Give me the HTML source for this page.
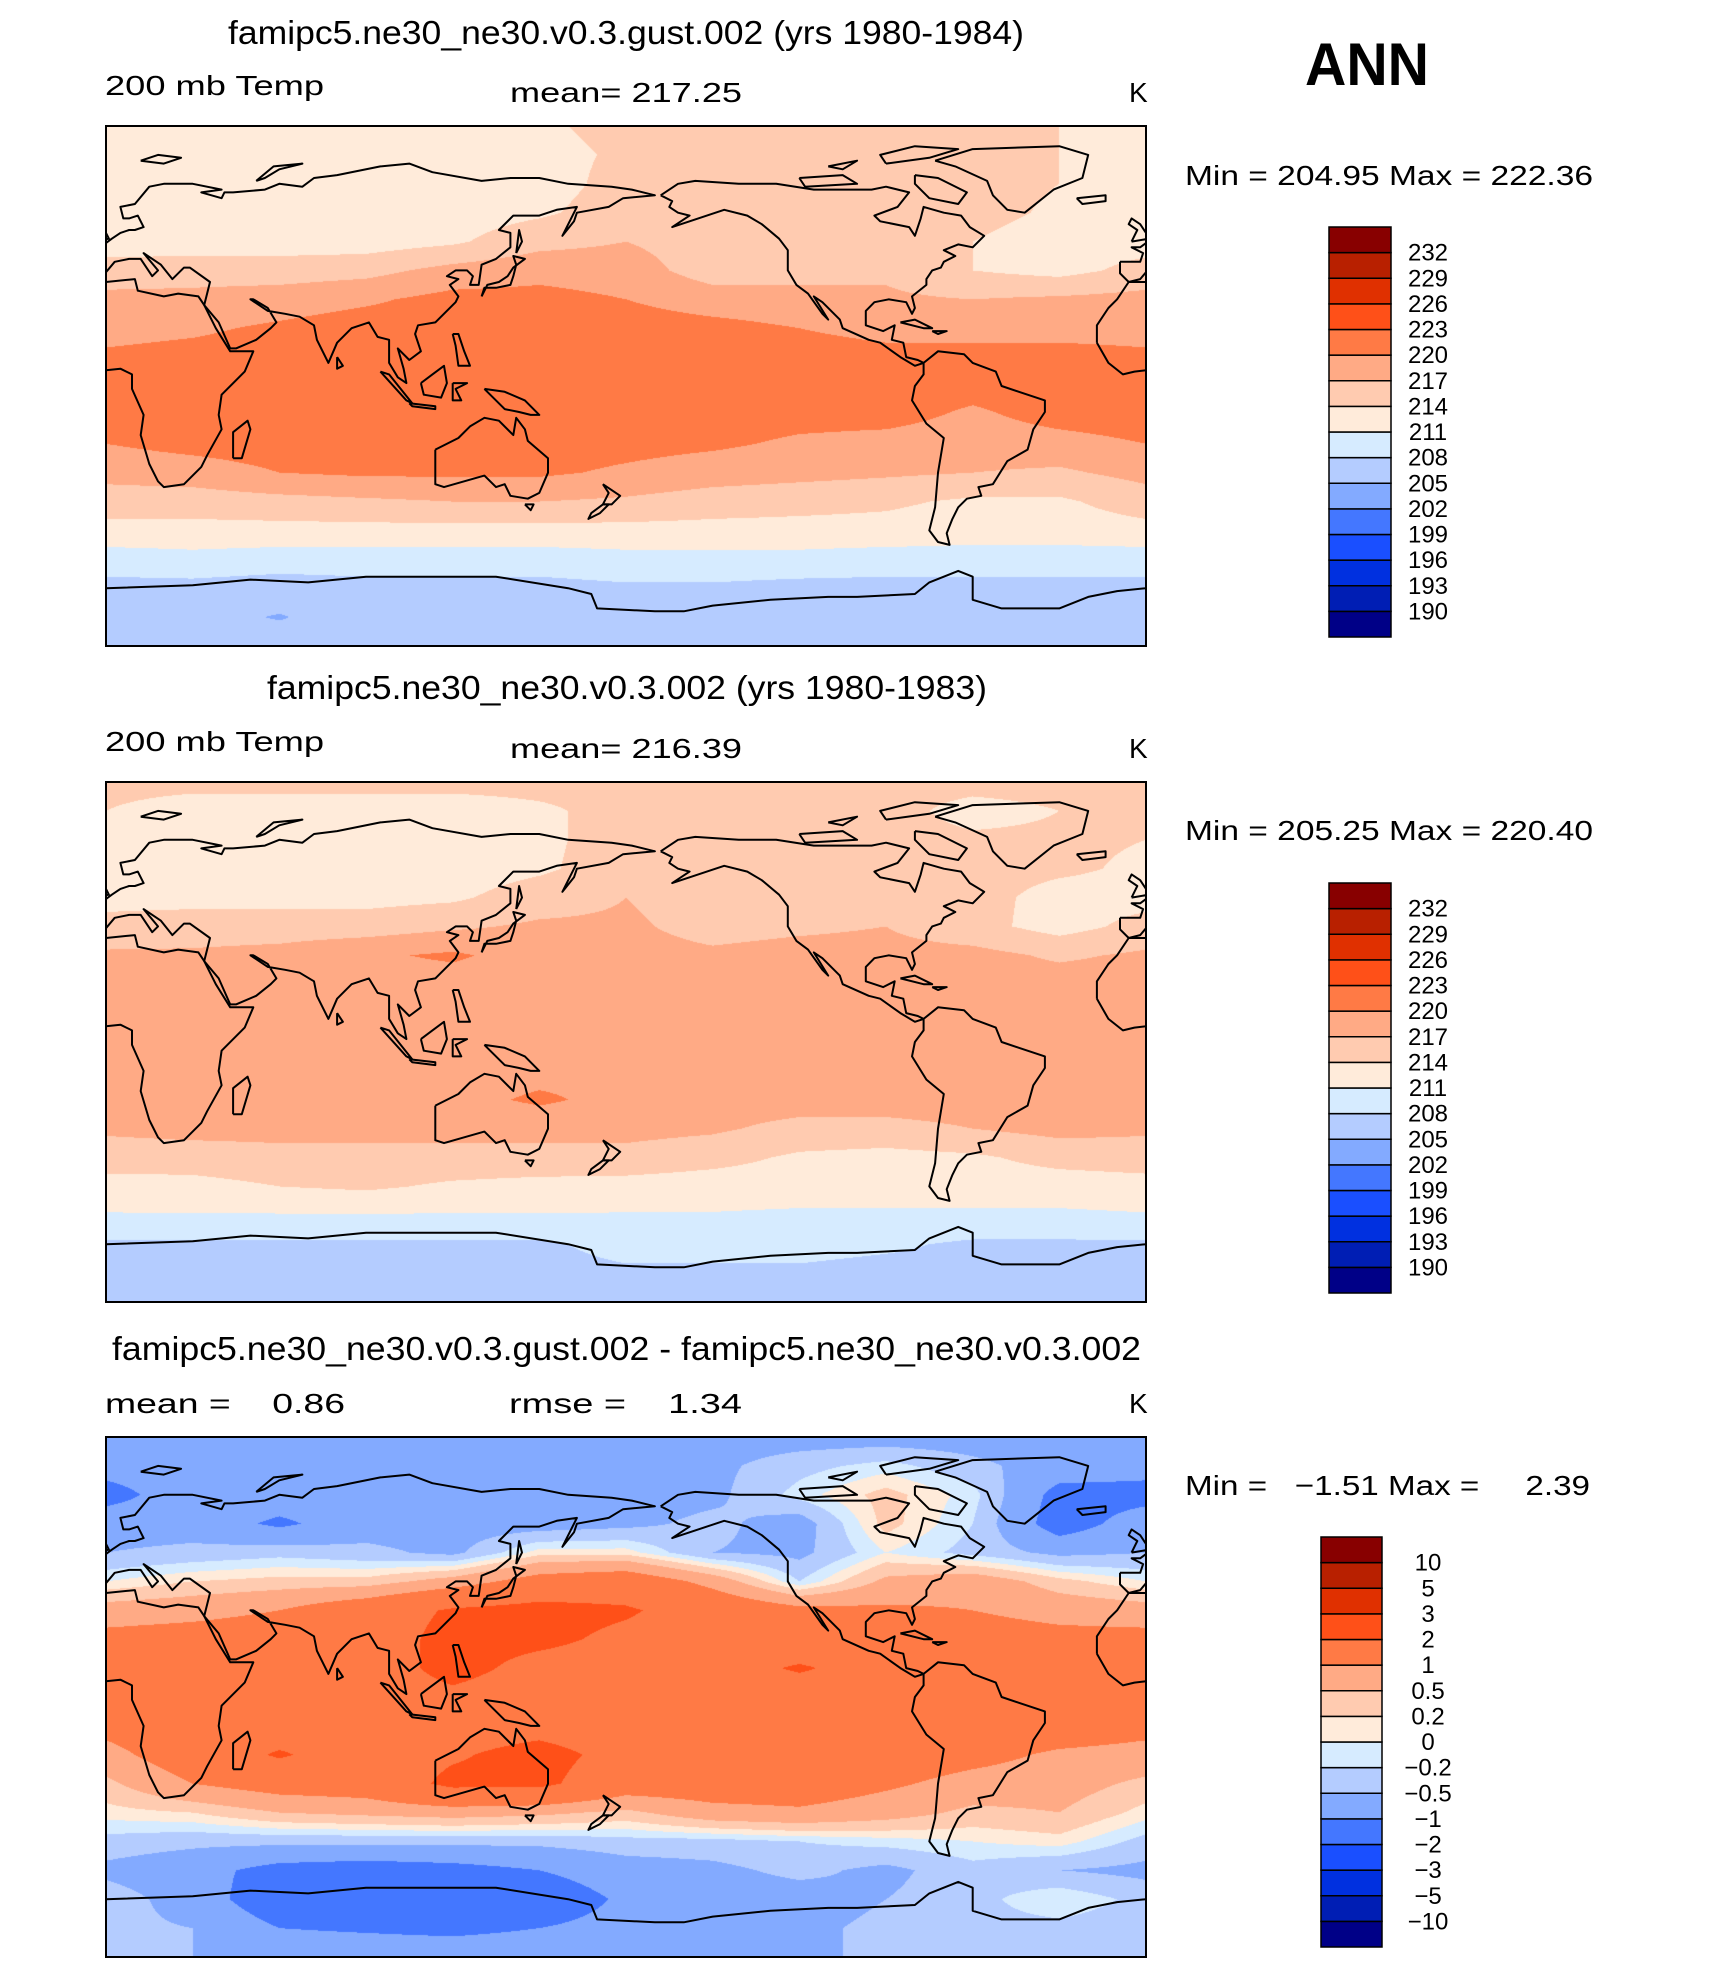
<!DOCTYPE html>
<html><head><meta charset="utf-8">
<style>
html,body{margin:0;padding:0;background:#fff;}
#root{position:relative;width:1710px;height:1963px;overflow:hidden;background:#fff;font-family:"Liberation Sans",sans-serif;}
canvas{position:absolute;}
svg{position:absolute;left:0;top:0;}
</style></head>
<body>
<div id="root">
<canvas id="map1" width="1040" height="520" style="left:106px;top:126px"></canvas>
<canvas id="map2" width="1040" height="520" style="left:106px;top:782px"></canvas>
<canvas id="map3" width="1040" height="520" style="left:106px;top:1437px"></canvas>
<svg id="ov" width="1710" height="1963" xmlns="http://www.w3.org/2000/svg">
<g font-family="Liberation Sans, sans-serif" fill="#000">
<text x="228" y="44" font-size="33" textLength="796" lengthAdjust="spacingAndGlyphs">famipc5.ne30_ne30.v0.3.gust.002 (yrs 1980-1984)</text>
<text x="1305" y="85" font-size="60" font-weight="bold" textLength="124" lengthAdjust="spacingAndGlyphs">ANN</text>
<text x="105" y="95" font-size="28" textLength="219" lengthAdjust="spacingAndGlyphs">200 mb Temp</text>
<text x="510" y="102" font-size="28" textLength="232" lengthAdjust="spacingAndGlyphs">mean= 217.25</text>
<text x="1129" y="102" font-size="28">K</text>
<text x="1185" y="185" font-size="28" textLength="408" lengthAdjust="spacingAndGlyphs">Min = 204.95 Max = 222.36</text>

<text x="267" y="699" font-size="33" textLength="720" lengthAdjust="spacingAndGlyphs">famipc5.ne30_ne30.v0.3.002 (yrs 1980-1983)</text>
<text x="105" y="751" font-size="28" textLength="219" lengthAdjust="spacingAndGlyphs">200 mb Temp</text>
<text x="510" y="758" font-size="28" textLength="232" lengthAdjust="spacingAndGlyphs">mean= 216.39</text>
<text x="1129" y="758" font-size="28">K</text>
<text x="1185" y="840" font-size="28" textLength="408" lengthAdjust="spacingAndGlyphs">Min = 205.25 Max = 220.40</text>

<text x="112" y="1360" font-size="33" textLength="1029" lengthAdjust="spacingAndGlyphs">famipc5.ne30_ne30.v0.3.gust.002 - famipc5.ne30_ne30.v0.3.002</text>
<text x="105" y="1413" font-size="28" textLength="240" lengthAdjust="spacingAndGlyphs" xml:space="preserve">mean =    0.86</text>
<text x="509" y="1413" font-size="28" textLength="233" lengthAdjust="spacingAndGlyphs" xml:space="preserve">rmse =    1.34</text>
<text x="1129" y="1413" font-size="28">K</text>
<text x="1185" y="1495" font-size="28" textLength="405" lengthAdjust="spacingAndGlyphs" xml:space="preserve">Min =   −1.51 Max =     2.39</text>
</g>
<g id="coasts" fill="none" stroke="#000" stroke-width="2" stroke-linejoin="round"></g>
<g id="frames" fill="none" stroke="#000" stroke-width="2"></g>
<g id="cbars"></g>
</svg>
</div>
<script>
// ---- data ----
const lons = [0,30,60,90,120,150,180,210,240,270,300,330,360];
const lats = [90,80,70,60,50,40,30,20,10,0,-10,-20,-30,-40,-50,-60,-70,-80,-90];
const tempLevels = [190,193,196,199,202,205,208,211,214,217,220,223,226,229,232];
const tempLabels = ["190","193","196","199","202","205","208","211","214","217","220","223","226","229","232"];
const diffLevels = [-10,-5,-3,-2,-1,-0.5,-0.2,0,0.2,0.5,1,2,3,5,10];
const diffLabels = ["−10","−5","−3","−2","−1","−0.5","−0.2","0","0.2","0.5","1","2","3","5","10"];
const palette = ["#000087","#001EB4","#0030E0","#1A4FFF","#4477FF","#83AAFF","#B4CCFF","#D6EBFF","#FFEBDA","#FFCBB0","#FFAA85","#FF7A45","#FF5018","#E03000","#B82000","#880000"];

const gustTemp = [
[212.5,212.5,212.5,212.5,212.5,213.5,215,215,215,215,215,214,212.5],
[212.5,212.5,212.5,212.5,212.5,213,214.5,215,215,215,215,214,212.5],
[212.5,212.5,212.5,212.5,212.5,212.8,215,215,215,215,215,214,212.5],
[212.5,212.5,212.5,212.5,212.5,213.5,215.5,215.5,215,215,215,213.5,213],
[212.8,212.5,212.5,212.5,213.5,216,217,215.5,215,215,214,212.5,212.8],
[215,215.5,215.5,216,218,219,218.5,215.5,216,216.5,214,213,215],
[218,218,218.5,219.5,221,221,220,218.5,218,217.5,217,217.5,218],
[219,219.5,220.5,221.5,221.5,221.5,221.5,221,220,219,219,219,219],
[220.5,221,221.5,221.5,221.5,221.5,221.5,221.5,221.5,221,221,221,220.5],
[221.5,221.5,221.5,221.5,221.5,221.5,221.5,221.5,221.5,221.5,221,221.5,221.5],
[221.5,221.5,221.5,221.5,221.5,221.5,221.5,221.5,221,221,219.5,221,221.5],
[220,221,221.5,221.5,221.5,221.5,221,220.5,219.5,219,218.5,219,220],
[218,218.5,220,220.5,220.5,220.5,219.5,218.5,218,217.5,217,216.5,218],
[215.5,215.5,216,216.5,217,217,216.5,215.5,215,214.5,213.5,213.5,215.5],
[213,213,213,213,213,213,213,213,213,213,212.5,212.5,213],
[209.5,210,209.5,209.5,209.5,209.5,210,210,210,209.5,209.5,209.5,209.5],
[207,207,206.5,207,207,207,207.5,207.5,207,207,207,207,207],
[206.5,206,204.8,206.5,206.5,206.5,206.5,206.5,206.5,206.5,206.5,206.5,206.5],
[206.5,206.5,206.5,206.5,206.5,206.5,206.5,206.5,206.5,206.5,206.5,206.5,206.5]
];
const ctrlTemp = [
[215,215,215,215,215,215,215,215,215,215,215,215,215],
[214,212.5,212.5,212.5,212.5,213.5,215,215,215,215,213,214,214],
[214,212.5,212.5,212.5,212.5,213.5,215,215,215,215,214.5,214.5,214],
[213.5,212.5,212.5,212.5,212.5,213.5,215.5,215.5,215,215,215,214.5,213.5],
[213,213,213,213,213.5,215.5,217,215.5,215.5,215.5,215,213,213],
[215,215.5,215.5,215.5,216.5,217.5,217.5,216,216.5,217,215,212.8,215],
[217.5,217.5,218,219.5,220.5,218.5,218,217.5,218,218,218,216.5,217.5],
[218.5,218.5,218.5,218.5,218.5,218.5,218.5,218.5,218.5,218.5,218.5,218.5,218.5],
[218.5,218.5,218.5,218.5,218.5,218.5,218.5,218.5,218.5,218.5,218.5,218.5,218.5],
[218.5,218.5,218.5,218.5,218.5,218.5,218.5,218.5,218.5,218.5,218.5,218.5,218.5],
[218.5,218.5,218.5,218.5,218.5,219,219.5,218.5,218.5,218.5,218.5,218.5,218.5],
[218.5,218.5,218.5,218.5,219,220.5,219,218.5,218.5,218.5,218.5,218.5,218.5],
[217.5,218,218,218,218,218,218,217.5,216,216,217,218,217.5],
[215.5,215.5,216,216,216,216,216,215,213.5,213,213.5,215,215.5],
[212.8,213,214,214.5,213.5,213,212.8,212.5,212.5,212.5,212.5,212.5,212.8],
[210.8,210.8,210.8,210.8,210.8,210.8,210.8,210.8,210.5,210.5,210.5,210.5,210.8],
[207.5,207.5,207.5,207.5,207.5,207.5,209,209,209,208.5,207.5,207.5,207.5],
[207,207,207,207,207,207,207.5,207.5,207.5,207,207,207,207],
[207,207,207,207,207,207,207,207,207,207,207,207,207]
];
const diffTemp = [
[-0.7,-0.7,-0.7,-0.7,-0.7,-0.7,-0.7,-0.7,-0.7,-0.7,-0.7,-0.7,-0.7],
[-0.8,-0.7,-0.7,-0.7,-0.7,-0.7,-0.7,-0.6,-0.3,-0.1,-0.4,-0.7,-0.8],
[-1.2,-0.7,-0.7,-0.7,-0.7,-0.7,-0.7,-0.6,-0.1,0.3,-0.1,-1.2,-1.2],
[-0.7,-0.7,-1.1,-0.7,-0.7,-0.7,-0.6,-0.4,-0.7,0.3,-0.2,-1.3,-0.7],
[-0.5,-0.4,-0.3,-0.4,-0.6,0.1,0.1,-0.5,-0.6,0,-0.3,-0.6,-0.5],
[0,0.2,0.3,0.3,0.7,1.3,1.5,0.8,-0.2,0.6,0.8,0.3,0],
[0.7,0.8,1.0,1.5,2.1,2.3,2.1,1.6,1.2,1.1,1.0,0.8,0.7],
[1.2,1.3,1.4,1.5,2.3,2.2,1.8,1.5,1.4,1.4,1.3,1.2,1.2],
[1.5,1.5,1.5,1.5,2.3,1.7,1.6,1.6,2.1,1.6,1.6,1.5,1.5],
[1.5,1.5,1.5,1.5,1.8,1.5,1.5,1.5,1.5,1.5,1.5,1.5,1.5],
[1.2,1.5,1.5,1.5,1.6,1.7,1.5,1.5,1.5,1.5,1.5,1.4,1.2],
[0.8,1.4,2.1,1.5,1.9,2.3,1.7,1.5,1.5,1.4,1.2,0.9,0.8],
[0.4,1.0,1.3,1.4,2.2,2.2,1.4,1.4,1.4,1.1,0.8,0.7,0.4],
[0.1,0.2,0.5,0.6,0.7,0.6,0.4,0.8,0.9,0.7,0.4,0.5,0.1],
[-0.3,-0.4,-0.4,-0.4,-0.4,-0.4,-0.3,-0.3,-0.2,-0.1,0,0.1,-0.3],
[-0.6,-0.8,-1.2,-1.3,-1.2,-1.0,-0.7,-0.6,-0.4,-0.6,-0.3,-0.5,-0.6],
[-0.3,-0.7,-1.4,-1.5,-1.4,-1.4,-0.9,-0.7,-0.7,-0.5,-0.3,0,-0.3],
[-0.4,-0.5,-1.0,-1.1,-1.2,-1.0,-0.8,-0.7,-0.6,-0.4,-0.3,-0.3,-0.4],
[-0.5,-0.5,-0.5,-0.5,-0.5,-0.5,-0.5,-0.5,-0.5,-0.5,-0.5,-0.5,-0.5]
];

// coastlines (lon, lat) approximate; longitudes continuous within each line
const coastlines = [
 [[-17,15],[-17,21],[-13,27],[-10,30],[-6,36],[0,36],[10,37],[11,33],[20,31],[25,32],[32,31],[34,28],[38,20],[43,12],[51,12],[48,5],[40,-3],[39,-10],[40,-15],[35,-24],[33,-28],[27,-34],[20,-35],[18,-33],[15,-27],[12,-17],[13,-10],[9,-1],[9,4],[5,6],[-4,5],[-8,4],[-13,8],[-17,15]],
 [[44,-25],[47,-25],[50,-15],[49,-12],[44,-16],[44,-25]],
 [[-9,43],[-9,39],[-6,36],[-2,37],[3,43],[8,44],[12,44],[16,38],[18,40],[13,46],[19,42],[23,37],[27,41],[29,41],[36,36],[35,32],[34,28],[39,22],[43,13],[45,13],[52,16],[57,20],[59,22],[56,27],[51,30],[50,30],[56,26],[62,25],[67,24],[72,21],[73,16],[77,8],[80,15],[85,20],[91,22],[94,17],[98,16],[98,8],[101,3],[104,1],[103,6],[101,13],[105,9],[109,12],[107,18],[108,21],[114,22],[121,29],[122,31],[119,35],[122,37],[118,38],[121,40],[125,40],[127,38],[126,35],[129,35],[130,42],[135,44],[140,48],[140,53],[136,54],[141,59],[150,59],[156,61],[163,62],[158,52],[162,57],[163,60],[174,62],[179,65],[190,66],[182,68],[175,69],[160,70],[150,72],[140,72],[130,71],[113,74],[105,77],[95,76],[80,73],[72,72],[68,69],[60,70],[55,68],[44,67],[41,67],[40,65],[33,67],[40,68],[30,70],[20,70],[15,69],[10,63],[5,62],[6,58],[8,58],[11,59],[13,55],[10,54],[8,54],[5,53],[2,51],[-2,48],[-5,48],[-1,46],[-2,43],[-9,43]],
 [[-5,50],[1,51],[0,53],[-2,56],[-5,58],[-6,56],[-3,54],[-5,50]],
 [[-24,65],[-14,66],[-14,64],[-22,63],[-24,65]],
 [[52,71],[58,76],[68,77],[60,75],[55,72],[52,71]],
 [[12,78],[18,80],[26,79],[20,77],[12,78]],
 [[130,31],[131,34],[135,34],[140,35],[141,38],[142,42],[141,45],[145,44],[141,41],[139,38],[136,36],[132,35],[130,31]],
 [[142,46],[143,54],[144,50],[142,46]],
 [[109,1],[110,-3],[116,-4],[118,1],[117,7],[113,4],[109,1]],
 [[95,5],[98,4],[106,-6],[104,-5],[95,5]],
 [[105,-6],[114,-7],[114,-8],[106,-7],[105,-6]],
 [[120,1],[125,1],[121,-1],[123,-5],[120,-5],[120,1]],
 [[131,-1],[138,-2],[145,-5],[150,-10],[147,-10],[143,-9],[138,-8],[134,-4],[131,-1]],
 [[120,18],[122,18],[124,12],[126,7],[122,7],[121,14],[120,18]],
 [[80,10],[82,7],[80,6],[80,10]],
 [[114,-22],[114,-34],[117,-35],[124,-33],[131,-31],[135,-35],[138,-34],[140,-38],[146,-39],[150,-37],[153,-30],[153,-25],[146,-19],[145,-15],[142,-11],[141,-17],[136,-12],[131,-11],[126,-14],[122,-18],[114,-22]],
 [[145,-41],[148,-41],[147,-43],[145,-41]],
 [[172,-34],[178,-38],[175,-41],[172,-41],[174,-37],[172,-34]],
 [[172,-41],[174,-41],[171,-44],[167,-46],[168,-44],[172,-41]],
 [[-168,66],[-162,70],[-156,71],[-141,70],[-128,70],[-115,68],[-95,68],[-90,69],[-82,67],[-86,62],[-94,59],[-92,57],[-82,55],[-80,52],[-78,58],[-77,62],[-70,60],[-64,59],[-61,55],[-56,52],[-60,48],[-65,49],[-70,47],[-66,45],[-70,43],[-71,41],[-74,40],[-76,37],[-76,35],[-81,31],[-80,27],[-81,25],[-83,29],[-89,30],[-94,29],[-97,26],[-97,21],[-91,19],[-87,21],[-88,16],[-84,15],[-83,10],[-79,9],[-77,8],[-80,7],[-85,10],[-92,15],[-96,16],[-105,20],[-106,23],[-112,29],[-115,31],[-110,23],[-112,25],[-117,32],[-121,35],[-124,40],[-124,47],[-127,51],[-133,56],[-138,59],[-146,61],[-152,59],[-158,57],[-164,55],[-158,59],[-162,60],[-165,62],[-164,64],[-168,66]],
 [[-73,78],[-60,82],[-30,83],[-20,80],[-22,72],[-32,68],[-42,60],[-48,61],[-53,66],[-55,71],[-66,76],[-73,78]],
 [[-80,73],[-72,72],[-62,67],[-65,63],[-75,65],[-80,70],[-80,73]],
 [[-120,72],[-105,73],[-100,70],[-118,69],[-120,72]],
 [[-90,77],[-75,79],[-65,82],[-80,83],[-92,80],[-90,77]],
 [[-110,76],[-100,78],[-105,75],[-110,76]],
 [[-85,22],[-77,20],[-74,20],[-80,23],[-85,22]],
 [[-74,19],[-69,19],[-72,18],[-74,19]],
 [[-77,8],[-72,12],[-63,11],[-60,8],[-52,5],[-50,0],[-44,-2],[-35,-5],[-35,-9],[-39,-15],[-41,-22],[-48,-26],[-53,-34],[-58,-35],[-57,-38],[-62,-39],[-65,-42],[-67,-46],[-69,-51],[-68,-55],[-72,-54],[-75,-50],[-73,-42],[-72,-30],[-70,-18],[-76,-13],[-81,-5],[-80,0],[-77,4],[-77,8]],
 [[0,-70],[30,-69],[50,-67],[70,-68],[90,-66],[110,-66],[135,-66],[160,-70],[168,-72],[170,-77],[190,-78],[200,-78],[210,-76],[230,-74],[250,-73],[260,-73],[280,-72],[285,-68],[295,-64],[300,-66],[300,-74],[310,-77],[330,-77],[340,-73],[350,-71],[360,-70]]
];

// ---- axes ----
const MAP_X = 106, MAP_W = 1040, MAP_H = 520;
const mapTops = [126, 782, 1437];
function xOf(lon){ return (lon/360)*MAP_W; }
function yOf(lat){ return ((90-lat)/180)*MAP_H; }
function colorIndex(v, levels){ let i=0; while(i<levels.length && v>=levels[i]) i++; return i; }
function hexToRgb(h){ return [parseInt(h.slice(1,3),16),parseInt(h.slice(3,5),16),parseInt(h.slice(5,7),16)]; }
const palRgb = palette.map(hexToRgb);

function sample(field, lon, lat){
  const fx = (lon - lons[0])/(lons[1]-lons[0]);
  const fy = (lats[0]-lat)/(lats[0]-lats[1]);
  let i = Math.min(Math.floor(fx), lons.length-2), j = Math.min(Math.floor(fy), lats.length-2);
  const tx = fx-i, ty = fy-j;
  const a = field[j][i], b = field[j][i+1], c = field[j+1][i], d = field[j+1][i+1];
  return (a*(1-tx)+b*tx)*(1-ty) + (c*(1-tx)+d*tx)*ty;
}
function drawMap(id, field, levels){
  const cv = document.getElementById(id), ctx = cv.getContext('2d');
  const img = ctx.createImageData(MAP_W, MAP_H);
  for(let py=0; py<MAP_H; py++){
    const lat = 90 - (py+0.5)/MAP_H*180;
    for(let px=0; px<MAP_W; px++){
      const lon = (px+0.5)/MAP_W*360;
      const c = palRgb[colorIndex(sample(field, lon, lat), levels)];
      const k = (py*MAP_W+px)*4;
      img.data[k]=c[0]; img.data[k+1]=c[1]; img.data[k+2]=c[2]; img.data[k+3]=255;
    }
  }
  ctx.putImageData(img,0,0);
}
drawMap('map1', gustTemp, tempLevels);
drawMap('map2', ctrlTemp, tempLevels);
drawMap('map3', diffTemp, diffLevels);

const NS = 'http://www.w3.org/2000/svg';
const coastG = document.getElementById('coasts');
const frameG = document.getElementById('frames');
mapTops.forEach((top, p) => {
  const clipId = 'clip'+p;
  const cp = document.createElementNS(NS,'clipPath'); cp.setAttribute('id', clipId);
  const cr = document.createElementNS(NS,'rect');
  cr.setAttribute('x', MAP_X); cr.setAttribute('y', top); cr.setAttribute('width', MAP_W); cr.setAttribute('height', MAP_H);
  cp.appendChild(cr); coastG.appendChild(cp);
  const g = document.createElementNS(NS,'g');
  g.setAttribute('clip-path','url(#'+clipId+')');
  
  
  coastlines.forEach(line => {
    [0, 360].forEach(shift => {
      const pts = line.map(([lo,la]) => (MAP_X + xOf(lo+shift)).toFixed(1)+','+(top + yOf(la)).toFixed(1)).join(' ');
      const pl = document.createElementNS(NS,'polyline');
      pl.setAttribute('points', pts);
      
      
      g.appendChild(pl);
    });
  });
  coastG.appendChild(g);
  const fr = document.createElementNS(NS,'rect');
  fr.setAttribute('x', MAP_X); fr.setAttribute('y', top); fr.setAttribute('width', MAP_W); fr.setAttribute('height', MAP_H);
  
  
  frameG.appendChild(fr);
});

// colorbars
const cbG = document.getElementById('cbars');
const cbars = [
  {x:1329, w:62, top:227, labels:tempLabels},
  {x:1329, w:62, top:883, labels:tempLabels},
  {x:1321, w:61, top:1537, labels:diffLabels}
];
const CB_H = 410;
cbars.forEach((cb) => {
  const n = palette.length, bh = CB_H/n;
  const g = document.createElementNS(NS,'g');
  
  
  for(let k=0;k<n;k++){
    const r = document.createElementNS(NS,'rect');
    r.setAttribute('x', cb.x); r.setAttribute('y', cb.top + (n-1-k)*bh);
    r.setAttribute('width', cb.w); r.setAttribute('height', bh);
    r.setAttribute('fill', palette[k]); r.setAttribute('stroke', '#000'); r.setAttribute('stroke-width', '1.5');
    
    
    g.appendChild(r);
  }
  cb.labels.forEach((lab, k) => {
    const t = document.createElementNS(NS,'text');
    const yb = cb.top + (n-1-k)*bh;
    t.setAttribute('x', 1428); t.setAttribute('y', yb + 8);
    t.setAttribute('text-anchor', 'middle');
    t.setAttribute('font-size', '24');
    t.setAttribute('font-family', 'Liberation Sans, sans-serif');
    t.textContent = lab;
    
    
    g.appendChild(t);
  });
  cbG.appendChild(g);
});
</script>
</body></html>
